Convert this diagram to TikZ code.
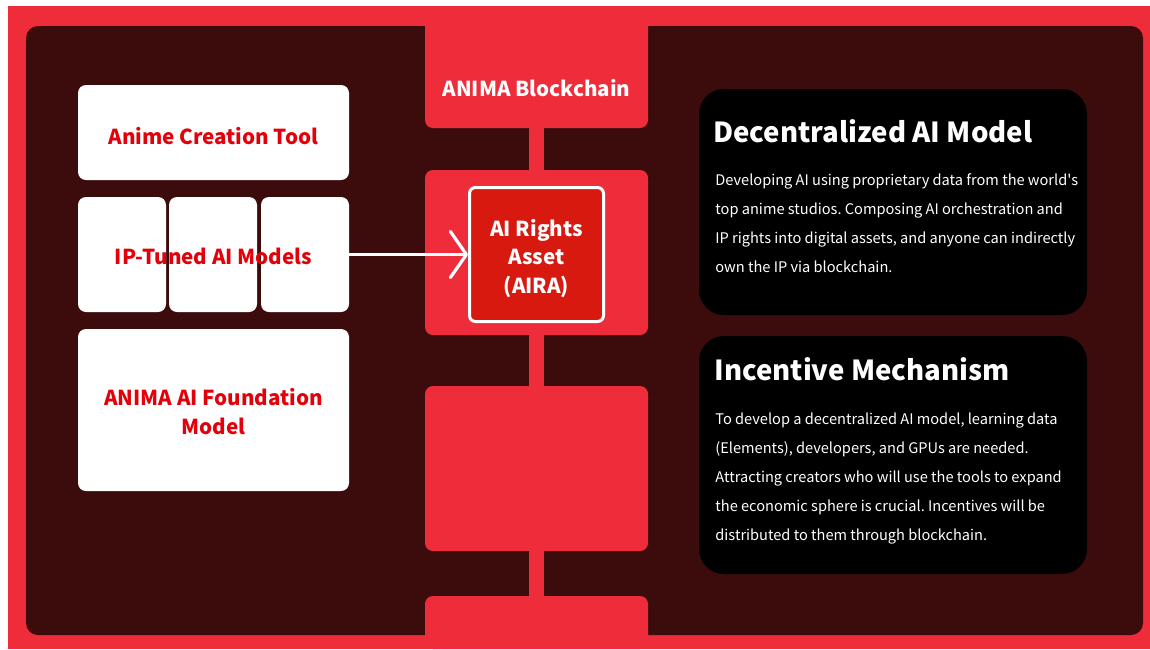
\documentclass[tikz,border=0pt]{standalone}
\usepackage{fontspec}
\setmainfont{Noto Sans CJK SC}
\usepackage{xcolor}
\usetikzlibrary{arrows.meta, positioning}
\definecolor{framered}{RGB}{239,45,58}
\definecolor{darkbg}{RGB}{60,12,13}
\definecolor{airared}{RGB}{216,25,16}
\definecolor{labelred}{RGB}{228,0,10}
\frenchspacing
\tikzset{
x=0.5pt, y=-0.5pt, % one unit is one pixel of the sketch, y runs down
block/.style={fill=framered, rounded corners=4pt, minimum width=111.5pt, inner sep=0pt}, % red boxes of the middle column
card/.style={fill=white, rounded corners=4pt, inner sep=0pt}, % white boxes on the left
cardtext/.style={text=labelred, font=\bfseries\fontsize{10.3}{14.5}\selectfont, align=center, inner sep=0pt}, % their labels
panel/.style={fill=black, rounded corners=12.5pt, minimum width=194pt, inner sep=0pt}, % black boxes on the right
heading/.style={text=white, font=\bfseries\fontsize{13.8}{17}\selectfont, inner sep=0pt, anchor=west}, % titles of the panels
body/.style={text=white, font=\fontsize{7.3}{14.5}\selectfont, align=left, inner sep=0pt, anchor=north west}, % text of the panels
bar/.style={draw=framered, line width=7.5pt}, % the chain links
}

\begin{document}
\begin{tikzpicture}
    \useasboundingbox[fill=white] (0,0) rectangle (1150,649);
    \fill[framered] (8,6) rectangle (1150,649);
    \fill[darkbg, rounded corners=6pt] (26,26) rectangle (1143,635);

    % middle column
    \node[block, minimum height=61pt] (chain) at (536.5,67) {};
    \node[text=white, font=\bfseries\fontsize{10.3}{14.5}\selectfont, inner sep=0pt] (chaintext) at (536.5,88) {ANIMA Blockchain};
    \node[block, minimum height=82.5pt] (rights) at (536.5,252.5) {};
    \node[block, minimum height=82.5pt] (slot) at (536.5,468.5) {};
    \node[block, minimum height=26.5pt] (tail) at (536.5,622.5) {};
    \node[fill=airared, draw=white, line width=1.5pt, rounded corners=3pt, minimum width=67pt, minimum height=67pt, inner sep=0pt] (aira) at (536.5,254.5) {};
    \node[text=white, font=\bfseries\fontsize{10.3}{14.3}\selectfont, align=center, inner sep=0pt] (airatext) at (536.5,258.5) {AI Rights\\Asset\\(AIRA)};
    \draw[bar] (chain.south) -- (rights.north)
               (rights.south) -- (slot.north)
               (slot.south) -- (tail.north);

    % left column
    \node[card, minimum width=135.5pt, minimum height=47.5pt] (tool) at (213.5,132.5) {};
    \node[cardtext] (tooltext) at (213.5,136.5) {Anime Creation Tool};
    \node[card, minimum width=44pt, minimum height=57.5pt] (ipa) at (122,254.5) {};
    \node[card, minimum width=44pt, minimum height=57.5pt] (ipb) at (213,254.5) {};
    \node[card, minimum width=44pt, minimum height=57.5pt] (ipc) at (305,254.5) {};
    \node[cardtext] (iptext) at (213.5,256) {IP-Tuned AI Models};
    \node[card, minimum width=135.5pt, minimum height=81pt] (found) at (213.5,410) {};
    \node[cardtext] (foundtext) at (213.5,412) {ANIMA AI Foundation\\Model};
    \draw[white, line width=1.6pt, -{Straight Barb[length=8pt, width=23pt, round]}] (ipc.east) -- (aira.west);

    % right column
    \node[panel, minimum height=113pt] (decent) at (893,202) {};
    \node[heading] (decenttitle) at (713,131) {Decentralized AI Model};
    \node[body] (decenttext) at (715,173) {Developing AI using proprietary data from the world\textquotesingle s\\top anime studios. Composing AI orchestration and\\IP rights into digital assets, and anyone can indirectly\\own the IP via blockchain.};
    \node[panel, minimum height=119pt] (incent) at (893,455) {};
    \node[heading] (incenttitle) at (714,369) {Incentive Mechanism};
    \node[body] (incenttext) at (715,412) {To develop a decentralized AI model, learning data\\(Elements), developers, and GPUs are needed.\\Attracting creators who will use the tools to expand\\the economic sphere is crucial. Incentives will be\\distributed to them through blockchain.};
\end{tikzpicture}
\end{document}
